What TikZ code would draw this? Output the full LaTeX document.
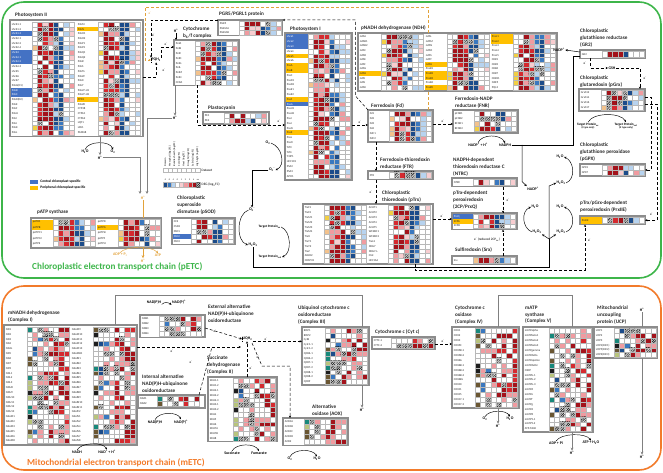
\documentclass[tikz,border=0pt]{standalone}
\usepackage{fontspec}
\setmainfont{Carlito}
\usetikzlibrary{positioning, arrows.meta, patterns.meta}

\definecolor{pgreen}{HTML}{3DB54A}
\definecolor{morange}{HTML}{F27B2B}
\definecolor{aorange}{HTML}{E2A23A}
\definecolor{tabgray}{HTML}{8C8C8C}
\definecolor{linegray}{HTML}{808080}
\definecolor{hmA}{HTML}{A3131B}
\definecolor{hmB}{HTML}{D52A2F}
\definecolor{hmC}{HTML}{F09BA0}
\definecolor{hmD}{HTML}{F8CDD0}
\definecolor{hmE}{HTML}{1C4C8A}
\definecolor{hmF}{HTML}{3A78BF}
\definecolor{hmG}{HTML}{B7D3EF}
\definecolor{hmY}{HTML}{F1CF45}
\definecolor{hmO}{HTML}{F3C28C}
\definecolor{hmN}{HTML}{6A5632}
\definecolor{hmK}{HTML}{1E1E1E}
\definecolor{hmT}{HTML}{17897B}
\definecolor{hmV}{HTML}{B8C47C}
\definecolor{hb}{HTML}{4472C4}
\definecolor{hy}{HTML}{FFC000}
\colorlet{hw}{white}

\tikzset{
  rowlab/.style = {font=\fontsize{2.9}{3}\selectfont, anchor=west, inner sep=0pt},
  ttl/.style    = {font=\fontsize{5.2}{6.8}\selectfont\bfseries, align=left,
                   anchor=north west, inner sep=0pt, text=black!85},
  bigttl/.style = {font=\fontsize{9.2}{10}\selectfont\bfseries, anchor=west, inner sep=0pt},
  chem/.style   = {font=\fontsize{3.9}{4.4}\selectfont\bfseries, inner sep=0.4pt},
  tgt/.style    = {font=\fontsize{3.3}{3.6}\selectfont\bfseries, align=center, inner sep=0.4pt},
  elab/.style   = {font=\fontsize{3.4}{4}\selectfont, inner sep=0.3pt},
  lgtext/.style = {font=\fontsize{3.6}{4}\selectfont\bfseries, anchor=west, inner sep=0pt},
  dslab/.style  = {font=\fontsize{2.6}{3}\selectfont, rotate=90, anchor=west, inner sep=0pt},
  swatch/.style = {minimum width=8pt, minimum height=3.5pt, inner sep=0pt},
  tabbox/.style = {draw=tabgray, line width=1.1pt, fill=white, anchor=north west,
                   inner sep=0pt, outer sep=0pt},
  cellln/.style = {draw=black!28, line width=0.12pt},
  eflow/.style  = {densely dashed, line width=0.5pt, -{Stealth[length=2.4pt,width=2.2pt]}},
  oflow/.style  = {eflow, draw=aorange},
  oline/.style  = {densely dashed, line width=0.5pt, draw=aorange},
  hflow/.style  = {draw=linegray, line width=0.9pt, -{Stealth[length=3pt,width=2.8pt]}},
  hline/.style  = {draw=linegray, line width=0.9pt},
  aline/.style  = {draw=aorange, line width=0.9pt},
  aflow/.style  = {aline, -{Stealth[length=3pt,width=2.8pt]}},
  rxn/.style    = {line width=0.45pt, -{Stealth[length=2.4pt,width=2.2pt]}},
  arxn/.style   = {rxn, draw=aorange},
  sline/.style  = {line width=0.5pt},
  sarrow/.style = {line width=0.5pt, -{Stealth[length=2.4pt,width=2.2pt]}},
}

\newcommand{\eminus}{e\textsuperscript{-}}
\newcommand{\hpl}{H\textsuperscript{+}}
\newcommand{\htwoo}{H\textsubscript{2}O}
\newcommand{\htwooo}{H\textsubscript{2}O\textsubscript{2}}

% cell geometry and colour palettes (codes: 0 white, 1-4 reds, 5-7 blues, 8 hatched, 9-14 tags)
\def\tagw{5}
\def\cellw{5.3}
\def\hbname{hb}
\def\palT{{0,0,0,0,0,0,0,0,9,10}}
\def\palU{{0,0,0,0,11,11,12,13,14,0}}
\def\palRa{{1,1,1,2,8,8,3,1,0,2}}
\def\palRb{{1,1,2,2,1,8,3,1,0,4}}
\def\palRc{{1,1,2,3,4,0,8,1,2,3}}
\def\palBa{{5,5,5,5,5,6,6,8,7,0}}
\def\palBb{{5,5,5,6,6,7,0,8,5,0}}
\def\palLa{{0,0,0,7,7,0,3,0,0,7}}
\def\palLb{{0,0,0,0,0,7,0,3,4,0}}
\def\palXa{{0,0,8,8,0,6,5,0,3,0}}
\def\palXb{{0,0,8,8,8,0,6,3,0,0}}
\def\palXc{{0,0,0,8,8,3,3,1,0,0}}
\def\palM{{0,0,0,1,1,2,3,3,8,0}}
\def\colsP{\palT,\palRa,\palRb,\palRc,\palBa,\palBb,\palLa,\palLb}
\def\colsM{\palU,\palXa,\palXb,\palXc,\palM,\palM,\palM,\palM}

\newcommand{\hmcell}[5]{%
  \ifcase#5\relax\def\cc{white}\or\def\cc{hmA}\or\def\cc{hmB}\or\def\cc{hmC}\or
    \def\cc{hmD}\or\def\cc{hmE}\or\def\cc{hmF}\or\def\cc{hmG}\or\def\cc{white}\or
    \def\cc{hmY}\or\def\cc{hmO}\or\def\cc{hmN}\or\def\cc{hmK}\or\def\cc{hmT}\or
    \def\cc{hmV}\fi
  \fill[\cc] (#1,#2) rectangle ++(#3,#4);
  \ifnum#5=8\relax
    \fill[pattern={Lines[angle=45,distance=1.2pt,line width=0.45pt]}, pattern color=black]
      (#1,#2) rectangle ++(#3,#4);
  \fi
  \draw[cellln] (#1,#2) rectangle ++(#3,#4);
}

% one block of a heat map: prefix, x, y, label width, row height, palettes, rows
\newcommand{\hmgroup}[7]{%
  \foreach \lab/\hl [count=\r from 0] in {#7}{%
    \pgfmathsetmacro{\yy}{#3+\r*#5}%
    \fill[\hl] (#2,\yy) rectangle ++(#4,#5);
    \ifx\hl\hbname\def\tc{white}\else\def\tc{black!85}\fi
    \node[rowlab, text=\tc] (#1\r) at (#2+0.7,\yy+0.5*#5) {\lab};
    \foreach \pal [count=\c from 0] in #6 {%
      \pgfmathrandominteger{\k}{0}{9}%
      \pgfmathtruncatemacro{\ci}{\pal[\k]}%
      \ifnum\c=0
        \hmcell{#2+#4}{\yy}{\tagw}{#5}{\ci}%
      \else
        \pgfmathsetmacro{\xx}{#2+#4+\tagw+(\c-1)*\cellw}%
        \hmcell{\xx}{\yy}{\cellw}{#5}{\ci}%
      \fi
    }%
  }%
}

\begin{document}
\begin{tikzpicture}[x=1pt, y=-1pt]
  \useasboundingbox (0,0) rectangle (663,473);
  % frames
  \draw[pgreen, line width=1.6pt, rounded corners=22pt] (2,2) rectangle (661,278);
  \draw[morange, line width=1.6pt, rounded corners=22pt] (2,286) rectangle (661,470);
  \node[bigttl, text=pgreen] (ttlp) at (32,267) {Chloroplastic electron transport chain (pETC)};
  \node[bigttl, text=morange] (ttlm) at (27,463) {Mitochondrial electron transport chain (mETC)};

  % chloroplast tables
  \node[tabbox, minimum width=133pt, minimum height=116.5pt] (psii) at (10,20) {};
  \node[tabbox, minimum width=65pt, minimum height=45.5pt] (cyt) at (174,40) {};
  \node[tabbox, minimum width=64.5pt, minimum height=15.5pt] (pgr) at (218,20) {};
  \node[tabbox, minimum width=66pt, minimum height=12pt] (pc) at (203,112) {};
  \node[tabbox, minimum width=67pt, minimum height=147pt] (psi) at (285,33) {};
  \node[tabbox, minimum width=199pt, minimum height=58pt] (ndh) at (358,33) {};
  \node[tabbox, minimum width=65pt, minimum height=32pt] (fd) at (368,110) {};
  \node[tabbox, minimum width=65pt, minimum height=23pt] (fnr) at (453,110) {};
  \node[tabbox, minimum width=65pt, minimum height=8.5pt] (ftr) at (368,171) {};
  \node[tabbox, minimum width=130pt, minimum height=60pt] (ptrx) at (303,204) {};
  \node[tabbox, minimum width=65pt, minimum height=8.5pt] (ntrc) at (452,178) {};
  \node[tabbox, minimum width=65pt, minimum height=16.5pt] (tcp) at (452,213) {};
  \node[tabbox, minimum width=65pt, minimum height=8.5pt] (srx) at (452,256) {};
  \node[tabbox, minimum width=65pt, minimum height=8.5pt] (gr2) at (580,50) {};
  \node[tabbox, minimum width=66pt, minimum height=22pt] (grx) at (579,89) {};
  \node[tabbox, minimum width=65pt, minimum height=12pt] (gpx) at (580,164) {};
  \node[tabbox, minimum width=65pt, minimum height=8.5pt] (prx) at (580,216) {};
  \node[tabbox, minimum width=130pt, minimum height=30pt] (patp) at (31,218) {};
  \node[tabbox, minimum width=63pt, minimum height=26.5pt] (psod) at (172,218) {};

  \pgfmathsetseed{11}
  \hmgroup{psiia}{11}{22}{21}{4.7}{\colsP}{Lhcb1.1/hw, Lhcb1.2/hw, Lhcb1.3/hb, Lhcb2.1/hw,
    Lhcb2.2/hw, Lhcb2.4/hw, Lhcb3/hb, Lhcb4.1/hb, Lhcb4.2/hb, Lhcb4.3/hw, Lhcb5/hw, Lhcb6/hw,
    Lhcb7/hw, PsbA(D1)/hw, PsbB/hb, PsbC/hb, PsbD(D2)/hw, PsbE/hw, PsbF/hw, PsbH/hw, PsbI/hw,
    PsbJ/hw, PsbK/hw, PsbL/hw}
  \hmgroup{psiib}{77}{22}{21}{4.7}{\colsP}{PsbM/hw, PsbN/hy, PsbO1/hw, PsbO2/hw, PsbP1/hw,
    PsbP2/hw, PsbQ1/hw, PsbQ2/hw, PsbR/hw, PsbS/hw, PsbTn/hw, PsbW/hw, PsbX/hw, PsbY/hw,
    Psb27-H1/hw, Psb27-H2/hw, PPD1/hy, Psb28/hw, CYP38/hw, CTPA1/hw, CTPA2/hw, LQY1/hw,
    LPA1/hw, PAM68/hw}
  \pgfmathsetseed{23}
  \hmgroup{cyta}{175}{41.5}{20}{4.8}{\colsP}{PetA/hw, PetB/hw, PetC/hw, PetD/hw, PetG/hw,
    PetL/hw, PetM/hw, PetN/hw, CCDA/hw}
  \hmgroup{pgra}{219}{21.5}{20}{4.4}{\colsP}{PGR5/hw, PGRL1A/hw, PGRL1B/hw}
  \hmgroup{pca}{204}{113}{20}{5}{\colsP}{PE1/hw, PE2/hw}
  \pgfmathsetseed{37}
  \hmgroup{psia}{286}{34.5}{22}{4.8}{\colsP}{Lhca1/hb, Lhca2/hb, Lhca3/hb, Lhca4/hw, Lhca5/hy,
    Lhca6/hw, PsaA/hy, PsaB/hy, PsaC/hw, PsaD1/hw, PsaD2/hw, PsaE1/hw, PsaE2/hw, PsaF/hy,
    PsaG/hb, PsaH1/hw, PsaH2/hw, PsaI/hw, PsaJ/hw, PsaN/hw, PsaK/hy, PsaL/hw, PsaO/hw,
    Ycf3/hw, Ycf4/hw, Y3IP1/hw, HCF101/hw, PSA2/hw, PSA3/hw, APO1/hw}
  \pgfmathsetseed{41}
  \hmgroup{ndha}{359}{34.5}{22}{4.6}{\colsP}{ndhA/hw, ndhB1/hw, ndhB2/hw, ndhC/hw, ndhD/hw,
    ndhE/hw, ndhF/hw, ndhG/hw, ndhH/hy, ndhI/hw, ndhJ/hw, ndhK/hw}
  \hmgroup{ndhb}{425}{34.5}{22}{4.6}{\colsP}{ndhL/hw, ndhM/hw, ndhN/hw, ndhO/hw, ndhS/hw,
    ndhT/hw, ndhU/hy, PnsB1/hw, PnsB2/hy, PnsB3/hy, PnsB4/hw, PnsB5/hy}
  \hmgroup{ndhc}{491}{34.5}{22}{4.6}{\colsP}{PnsL1/hy, PnsL2/hy, PnsL3/hw, PnsL4/hw, PnsL5/hw,
    CRR1/hw, CRR3/hw, CRR6/hw, CRR7/hw, CRR21/hw, NDF5/hw, PQL3/hw}
  \pgfmathsetseed{53}
  \hmgroup{fda}{369}{111.5}{20}{5}{\colsP}{Fd1/hw, Fd2/hw, Fd3/hw, Fd4/hw, FdC1/hw, FdC2/hw}
  \hmgroup{fnra}{454}{111.5}{20}{5}{\colsP}{pFNR1/hw, pFNR2/hw, RFNR1/hw, RFNR2/hw}
  \hmgroup{ftra}{369}{172}{20}{6.5}{\colsP}{FTR/hw}
  \pgfmathsetseed{67}
  \hmgroup{ptrxa}{304}{205.5}{20}{4.8}{\colsP}{TrxF1/hw, TrxF2/hw, TrxM1/hw, TrxM2/hw, TrxM3/hw,
    TrxM4/hw, TrxX/hw, TrxY1/hw, TrxY2/hw, TrxZ/hw, AtHD2/hw, CDSP32/hw}
  \hmgroup{ptrxb}{368}{205.5}{20}{4.8}{\colsP}{ACHT1/hw, ACHT2/hw, ACHT3/hw, ACHT4/hw, ACHT5/hw,
    WCRKC1/hw, WCRKC2/hw, TrxL2/hw, MRL7/hw, MRL7-L/hw, Clot/hw, HCF164/hw}
  \pgfmathsetseed{71}
  \hmgroup{ntrca}{453}{179}{20}{6.5}{\colsP}{NTRC/hw}
  \hmgroup{tcpa}{453}{214}{20}{4.8}{\colsP}{PrxQ/hb, 2CPA/hy, 2CPB/hw}
  \hmgroup{srxa}{453}{257}{20}{6.5}{\colsP}{Srx/hw}
  \hmgroup{gra}{581}{51}{21}{6.5}{\colsP}{GR2/hw}
  \hmgroup{grxa}{580}{90.5}{21}{5}{\colsP}{GrxS12/hw, GrxS14/hw, GrxS16/hw, GrxS17/hw}
  \hmgroup{gpxa}{581}{165}{21}{5}{\colsP}{GPX1/hw, GPX7/hw}
  \hmgroup{prxa}{581}{217}{21}{6.5}{\colsP}{PrxIIE/hy}
  \pgfmathsetseed{83}
  \hmgroup{patpa}{32}{219.5}{21}{5.4}{\colsP}{pATPA/hy, pATPB/hy, pATPC1/hw, pATPC2/hw, pATPE/hw}
  \hmgroup{patpb}{97}{219.5}{21}{5.4}{\colsP}{pATPD/hw, pATPG/hy, pATPIn/hw, pATPF/hw, pATPH/hw}
  \hmgroup{psoda}{173}{219.5}{18}{4.8}{\colsP}{CCS/hw, CSD2/hw, FSD1/hw, FSD2/hb, FSD3/hw}

  % chloroplast titles
  \node[ttl, anchor=west] (tpsii) at (15,15) {Photosystem II};
  \node[ttl] (tcyt) at (183,26.7) {Cytochrome\\b\textsubscript{6}/f complex};
  \node[ttl, anchor=west] (tpgr) at (219,14) {PGR5/PGRL1 protein};
  \node[ttl, anchor=west] (tpc) at (208,108) {Plastocyanin};
  \node[ttl, anchor=west] (tpsi) at (290,29) {Photosystem I};
  \node[ttl, anchor=west] (tndh) at (361,28) {pNADH dehydrogenase (NDH)};
  \node[ttl, anchor=west] (tfd) at (371,106) {Ferredoxin (Fd)};
  \node[ttl] (tfnr) at (455,96.7) {Ferredoxin-NADP\\reductase (FNR)};
  \node[ttl] (tftr) at (380,157.7) {Ferredoxin-thioredoxin\\reductase (FTR)};
  \node[ttl] (tptrx) at (382,190.7) {Chloroplastic\\thioredoxin (pTrx)};
  \node[ttl] (tntrc) at (453,157.7) {NADPH-dependent\\thioredoxin reductase C\\(NTRC)};
  \node[ttl] (ttcp) at (453,190.7) {pTrx-dependent\\peroxiredoxin\\(2CP/PrxQ)};
  \node[ttl, anchor=west] (tsrx) at (455,250) {Sulfiredoxin (Srx)};
  \node[ttl] (tgr2) at (580,28.7) {Chloroplastic\\glutathione reductase\\(GR2)};
  \node[ttl] (tgrx) at (580,75.7) {Chloroplastic\\glutaredoxin (pGrx)};
  \node[ttl] (tgpx) at (580,142.7) {Chloroplastic\\glutathione peroxidase\\(pGPX)};
  \node[ttl] (tprx) at (580,200.7) {pTrx/pGrx-dependent\\peroxiredoxin (PrxIIE)};
  \node[ttl, anchor=west] (tpatp) at (37,212) {pATP synthase};
  \node[ttl] (tpsod) at (177,195.7) {Chloroplastic\\superoxide\\dismutase (pSOD)};

  % legend
  \node[swatch, fill=hb] (lgb) at (34,182) {};
  \node[lgtext, right=2pt of lgb] (lgbt) {Central chloroplast-specific};
  \node[swatch, fill=hy] (lgy) at (34,188) {};
  \node[lgtext, right=2pt of lgy] (lgyt) {Peripheral chloroplast-specific};
  \foreach \lab [count=\i from 0] in {Domain, Mesophyll (log2FC), Bundle sheath (log2FC),
      Cold (log2FC), Heat (log2FC), Drought (log2FC), Salinity (log2FC), High light (log2FC)}{
    \draw[cellln, fill=white] (163+\i*4.6,168) rectangle ++(4.6,4.4);
    \node[dslab] (ds\i) at (165.3+\i*4.6,166.5) {\lab};
  }
  \node[lgtext, font=\fontsize{3.4}{4}\selectfont] (dsname) at (201.5,170.2) {Dataset};
  \foreach \cl/\num [count=\i from 0] in {hmE/-3, hmF/-2, hmG/-1, white/0, hmD/1, hmC/2,
      hmB/3, hmA/4, white/ns}{
    \draw[cellln, fill=\cl] (163+\i*4.1,182) rectangle ++(4.1,5);
    \node[font=\fontsize{2.2}{2.5}\selectfont, inner sep=0pt] (dg\i) at (165.05+\i*4.1,179.6) {\num};
  }
  \fill[pattern={Lines[angle=45,distance=1.2pt,line width=0.45pt]}] (195.8,182) rectangle ++(4.1,5);
  \node[lgtext, font=\fontsize{3.4}{4}\selectfont] (degname) at (201.5,184.5)
    {DEG (log\textsubscript{2}FC)};

  % chloroplast chemistry labels
  \node[chem] (h2oa) at (85,152) {\htwoo};
  \node[chem] (o2a) at (113,152) {O\textsubscript{2}};
  \node[chem] (hpa) at (100,157.5) {\hpl};
  \node[chem] (hpb) at (175,118) {\hpl};
  \node[chem] (hpc) at (176,31) {\hpl};
  \node[chem, text=aorange] (hpd) at (143,197.5) {\hpl};
  \node[chem, text=aorange] (adp) at (120,255) {ADP + P\textsubscript{i}};
  \node[chem, text=aorange] (atp) at (158,255) {ATP};
  \node[chem, text=aorange] (hpe) at (143,260.5) {\hpl};
  \node[chem, anchor=west] (pqh) at (151,60) {PQH\textsubscript{2}};
  \node[chem] (o2b) at (268,143) {O\textsubscript{2}};
  \node[chem] (o2mb) at (272,170) {O\textsubscript{2}\textsuperscript{-}};
  \node[chem] (o2mc) at (252,210) {O\textsubscript{2}\textsuperscript{-}};
  \node[chem] (h2o2c) at (253,245) {\htwooo};
  \node[tgt, anchor=west] (tpox) at (258,227) {Target Protein\textsubscript{ox}};
  \node[tgt, anchor=west] (tpred) at (258,257) {Target Protein\textsubscript{red}};
  \node[chem] (nadpa) at (478,145) {NADP\textsuperscript{+} + \hpl};
  \node[chem] (nadph) at (505,145) {NADPH};
  \node[chem] (nadpb) at (559,50) {NADP\textsuperscript{+}};
  \node[chem] (nadpc) at (533,188.5) {NADP\textsuperscript{+}};
  \node[chem] (gsh) at (612,68) {GSH};
  \node[tgt] (tpoxb) at (588,126) {Target Protein\textsubscript{ox}\\
    {\fontsize{2.6}{3}\selectfont (I type only)}};
  \node[tgt] (tpredb) at (626,126) {Target Protein\textsubscript{red}\\
    {\fontsize{2.6}{3}\selectfont (II type only)}};
  \node[chem] (h2od) at (535,207) {\htwoo};
  \node[chem] (h2o2d) at (537,232) {\htwooo};
  \node[chem] (h2oe) at (560,157) {\htwoo};
  \node[chem] (h2o2e) at (561,183) {\htwooo};
  \node[chem] (h2of) at (560,207) {\htwoo};
  \node[chem] (h2o2f) at (561,232) {\htwooo};
  \node[elab, anchor=east] (srxlab) at (500.5,240) {\eminus{} (reduced 2CP\textsubscript{ox})};

  % chloroplast electron flow
  \coordinate (psiie) at (143,77);
  \draw[eflow] (psiie) -| (pqh.south);
  \draw[eflow] (pqh.north east) |- (cyt.west |- 0,47);
  \draw[eflow] (fd.north west) -- (355.5,96) |- (pgr.north east);
  \draw[eflow] (pgr.north west) -| (pqh.north west);
  \draw[oline] (fd.north -| 428,0) -- (ndh.south -| 428,0);
  \draw[oflow] (ndh.north -| 428,0) |- (145,7) |- (pqh.west);
  \draw[line width=0.9pt, dash pattern=on 0.8pt off 0.5pt] (pqh.north west) -- (pqh.south west);
  \draw[eflow] (cyt.south -| 197,0) |- (psi.west |- 0,125);
  \draw[eflow] (psi.east |- 0,125) -- (fd.west |- 0,125);
  \draw[eflow] (fd.east |- 0,124) -- (fnr.west |- 0,124);
  \draw[eflow] (fd.south -| 376,0) -- (ftr.north -| 376,0);
  \draw[eflow] (ftr.south -| 376,0) -- (ptrx.north -| 376,0);
  \draw[eflow] (ptrx.east |- 0,219) -- (tcp.west |- 0,219);
  \draw[eflow] (ntrc.south -| 503,0) -- (tcp.north -| 503,0);
  \draw[eflow] (srx.north -| 503,0) -- (tcp.south -| 503,0);
  \draw[eflow] (ptrx.south -| 415,0) |- (585,270) -- (prx.south -| 585,0);
  \draw[eflow] (gr2.south -| 590,0) |- (gsh.west);
  \draw[eflow] (gsh.east) -| (grx.north -| 640,0);
  \draw[eflow] (grx.east |- 0,97) -- (651,97) |- (gpx.east);
  \draw[eflow] (grx.east |- 0,104) -- (657,104) |- (prx.east);
  \node[elab, text=aorange] (e1) at (150,13) {\eminus};
  \node[elab] (e2) at (153.5,35) {\eminus};
  \node[elab] (e3) at (164,70) {\eminus};
  \node[elab] (e4) at (166,44) {\eminus};
  \node[elab] (e5) at (279,121.5) {\eminus};
  \node[elab] (e6) at (360,122) {\eminus};
  \node[elab] (e7) at (443,121) {\eminus};
  \node[elab] (e8) at (371,192) {\eminus};
  \node[elab] (e9) at (442,216) {\eminus};
  \node[elab] (e10) at (508,200) {\eminus};
  \node[elab] (e11) at (589.5,240) {\eminus};
  \node[elab] (e12) at (585,63) {\eminus};
  \node[elab] (e13) at (645,78) {\eminus};
  \node[elab] (e14) at (651.5,214.5) {\eminus};

  % chloroplast proton and reaction paths
  \draw[rxn] (h2oa.north) .. controls +(3,-9) and +(-3,-9) .. (o2a.north);
  \draw[hflow] (psii.south -| hpa) -- (hpa.north);
  \coordinate (patpin1) at (140,194);
  \coordinate (patpin2) at (147,194);
  \draw[hflow] (hpa.east) -| (patpin1);
  \draw[hflow] (cyt.south -| hpb) -- (hpb.north);
  \draw[hflow] (hpb.west) -| (patpin2);
  \draw[sarrow] (hpc.south) -- (hpc.south |- cyt.north);
  \draw[aline] (hpd.south) -- (patp.north -| hpd);
  \draw[aflow] (patp.south -| hpd) -- (hpe.north);
  \draw[arxn] (adp.north) .. controls +(6,-7) and +(-6,-7) .. (atp.north);
  \draw[rxn] (o2b.east) .. controls +(12,4) and +(10,-4) .. (o2mb.east);
  \draw[sarrow] (o2mb.west) -| (o2mc.north);
  \draw[rxn] (o2mc.west) .. controls +(-12,4) and +(-12,-4) .. (h2o2c.west);
  \draw[rxn] (tpox.east) .. controls +(10,4) and +(10,-4) .. (tpred.east);
  \draw[rxn] (nadpa.north) .. controls +(4,-9) and +(-4,-9) .. (nadph.north);
  \draw[sline] (nadph.east) -- (573,145) |- (gr2.west |- 0,56);
  \draw[sarrow] (gr2.west |- 0,52) -- (nadpb.east);
  \draw[sarrow] (522,145) -- (522,181.5) -- (nadpc.north west);
  \draw[rxn] (tpoxb.north) .. controls +(5,-10) and +(-5,-10) .. (tpredb.north);
  \draw[rxn] (h2o2d.west) .. controls +(-10,-4) and +(-10,4) .. (h2od.west);
  \draw[rxn] (h2o2e.east) .. controls +(10,-4) and +(10,4) .. (h2oe.east);
  \draw[rxn] (h2o2f.east) .. controls +(10,-4) and +(10,4) .. (h2of.east);
  \coordinate (jx) at (549,239);
  \draw[sline] (h2o2c.south) |- (549,267) -- (jx);
  \draw[sarrow] (jx) -- (h2o2d.south east);
  \draw[sarrow] (jx) -- (h2o2f.south west);
  \draw[sarrow] (jx) -- (549,186) -- (h2o2e.west);

  % mitochondrial tables
  \node[tabbox, minimum width=133pt, minimum height=120pt] (ci) at (4,325) {};
  \node[tabbox, minimum width=65pt, minimum height=22pt] (ext) at (140,315) {};
  \node[tabbox, minimum width=67pt, minimum height=13pt] (int) at (138,395) {};
  \node[tabbox, minimum width=69pt, minimum height=64.5pt] (sdh) at (208,377) {};
  \node[tabbox, minimum width=67pt, minimum height=58pt] (c3) at (302,327) {};
  \node[tabbox, minimum width=63pt, minimum height=12pt] (cytc) at (372,337) {};
  \node[tabbox, minimum width=67pt, minimum height=81pt] (c4) at (452,327) {};
  \node[tabbox, minimum width=70pt, minimum height=105pt] (c5) at (523,327) {};
  \node[tabbox, minimum width=63.5pt, minimum height=31pt] (ucp) at (594,327) {};
  \node[tabbox, minimum width=65pt, minimum height=27pt] (aox) at (283,418) {};

  \pgfmathsetseed{97}
  \hmgroup{cia}{5}{327}{22}{4.85}{\colsM}{ND1/hw, ND2/hw, ND3/hw, ND4/hw, ND4L/hw, ND5/hw,
    ND6/hw, ND7/hw, ND9/hw, NDL1/hw, NDL2/hw, NDL3/hw, NDU8/hw, NDU9/hw, NDU10/hw, NDU11/hw,
    NDU12/hw, NDU13/hw, NdufA1/hw, NdufA2/hw, NdufA3/hw, NdufA5/hw, NdufA6/hw, NdufA8/hw}
  \hmgroup{cib}{71}{327}{22}{4.85}{\colsM}{NdufA9/hw, NdufA10/hw, NdufA11/hw, NdufA12/hw,
    NdufA13/hw, NdufAB1/hw, NdufB1/hw, NdufB2/hw, NdufB3/hw, NdufB4/hw, NdufB5/hw, NdufB6/hw,
    NdufB7/hw, NdufB8/hw, NdufB9/hw, NdufB10/hw, NdufB11/hw, NdufC2/hw, NdufS1/hw, NdufS2/hw,
    NdufS4/hw, NdufS6/hw, NdufS7/hw, NdufS8/hw}
  \pgfmathsetseed{101}
  \hmgroup{exta}{141}{316.5}{18}{5}{\colsM}{NDB1/hw, NDB2/hw, NDB3/hw, NDB4/hw}
  \hmgroup{inta}{139}{396.5}{18}{5}{\colsM}{NDA1/hw, NDA2/hw}
  \hmgroup{sdha}{209}{378.5}{24}{4.8}{\colsM}{SDH1-1/hw, SDH1-2/hw, SDH2-1/hw, SDH2-2/hw,
    SDH2-3/hw, SDH3-1/hw, SDH3-2/hw, SDH4/hw, SDH5/hw, SDH6/hw, SDH7A/hw, SDH7B/hw, SDH8/hw}
  \pgfmathsetseed{113}
  \hmgroup{c3a}{303}{328.5}{22}{4.6}{\colsM}{RISP1/hw, RISP2/hw, CytB/hw, Cytc1-1/hw,
    Cytc1-2/hw, QCR6-1/hw, QCR6-2/hw, QCR7-1/hw, QCR7-2/hw, QCR8-1/hw, QCR8-2/hw, QCR9/hw}
  \hmgroup{cytca}{373}{338}{18}{5}{\colsM}{CYTC-1/hw, CYTC-2/hw}
  \pgfmathsetseed{127}
  \hmgroup{c4a}{453}{328.5}{22}{4.9}{\colsM}{COX1/hw, COX2/hw, COX3/hw, COX5C/hw, COX5B-1/hw,
    COX5B-2/hw, COX6A/hw, COX6B-1/hw, COX6B-2/hw, COX6B-3/hw, COX6BL/hw, COX10/hw, COX11/hw,
    COX15/hw, COX17-1/hw, COX17-2/hw}
  \hmgroup{c5a}{524}{328.5}{25}{4.9}{\colsM}{mATPalpha/hw, mATPbeta1/hw, mATPbeta2/hw,
    mATPbeta3/hw, mATPgamma/hw, mATPdelta/hw, mATPepsilon/hw, mATPdelta'/hw, OSCP/hw,
    mATPb-1/hw, mATPb-2/hw, mATPb-3/hw, mATPd/hw, mATPe/hw, mATPf/hw, mATPg/hw, mATP6/hw,
    mATP8/hw, mATP9-1/hw, mATP9-2/hw, ATP-MGR/hw}
  \pgfmathsetseed{131}
  \hmgroup{ucpa}{595}{328.5}{19}{4.8}{\colsM}{UCP1/hw, UCP2/hw, UCP3/hw, UCP4(DIC1)/hw,
    UCP5(DIC2)/hw, UCP6(DIC3)/hw}
  \hmgroup{aoxa}{284}{419.5}{20}{5}{\colsM}{AOX1A/hw, AOX1B/hw, AOX1C/hw, AOX1D/hw, AOX2/hw}

  % mitochondrial titles
  \node[ttl] (tci) at (8,310.7) {mNADH dehydrogenase\\(Complex I)};
  \node[ttl] (text) at (208,304.7) {External alternative\\NAD(P)H-ubiquinone\\oxidoreductase};
  \node[ttl] (tint) at (142,374.7) {Internal alternative\\NAD(P)H-ubiquinone\\oxidoreductase};
  \node[ttl] (tsdh) at (207,355.7) {Succinate\\dehydrogenase\\(Complex II)};
  \node[ttl] (tc3) at (298,305.7) {Ubiquinol cytochrome c\\oxidoreductase\\(Complex III)};
  \node[ttl, anchor=west] (tcytc) at (375,332) {Cytochrome c (Cyt c)};
  \node[ttl] (tc4) at (455,305.7) {Cytochrome c\\oxidase\\(Complex IV)};
  \node[ttl] (tc5) at (525,305.7) {mATP\\synthase\\(Complex V)};
  \node[ttl] (tucp) at (597,305.7) {Mitochondrial\\uncoupling\\protein (UCP)};
  \node[ttl] (taox) at (312,404.7) {Alternative\\oxidase (AOX)};

  % mitochondrial chemistry labels
  \node[chem] (nadh) at (77,452) {NADH};
  \node[chem] (nadi) at (107,452) {NAD\textsuperscript{+} + \hpl};
  \node[chem] (npxa) at (154,302) {NAD(P)H};
  \node[chem] (npa) at (179,302) {NAD(P)\textsuperscript{+}};
  \node[chem] (npxb) at (155,422) {NAD(P)H};
  \node[chem] (npb) at (181,422) {NAD(P)\textsuperscript{+}};
  \node[chem, anchor=west] (uq) at (242,339) {UQH\textsubscript{2}};
  \node[chem] (succ) at (232,453) {Succinate};
  \node[chem] (fum) at (259,453) {Fumarate};
  \node[chem] (hp3) at (362,410) {\hpl};
  \node[chem] (o2x) at (290,459) {O\textsubscript{2}};
  \node[chem] (h2ox) at (317,459) {\htwoo};
  \node[chem] (o2iv) at (485,419) {O\textsubscript{2}};
  \node[chem] (h2oiv) at (510,419) {\htwoo};
  \node[chem] (hp4) at (498,426) {\hpl};
  \node[chem] (adpv) at (556,443) {ADP + Pi};
  \node[chem] (atpv) at (591,443) {ATP + \htwoo};
  \node[chem] (hp5) at (572,453) {\hpl};
  \node[chem] (hpu1) at (642,310) {\hpl};
  \node[chem] (hpu2) at (642,457) {\hpl};

  % mitochondrial proton and reaction paths
  \draw[rxn] (nadh.north) .. controls +(4,-8) and +(-4,-8) .. (nadi.north);
  \draw[rxn] (npxa.south east) .. controls +(3,-3) and +(-3,-2) .. (npa.south west);
  \draw[rxn] (npxb.north) .. controls +(4,-8) and +(-4,-8) .. (npb.north);
  \draw[rxn] (succ.north) .. controls +(4,-8) and +(-4,-8) .. (fum.north);
  \draw[rxn] (o2x.north) .. controls +(4,-8) and +(-4,-8) .. (h2ox.north);
  \draw[rxn] (o2iv.north) .. controls +(4,-7) and +(-4,-7) .. (h2oiv.north);
  \draw[rxn] (adpv.north) .. controls +(5,-8) and +(-5,-8) .. (atpv.north);
  \draw[hline] (ci.north -| 115,0) |- (362,295) -- (c3.north -| 362,0);
  \draw[hflow] (c3.south -| hp3) -- (hp3.north);
  \draw[hline] (c4.north -| 498,0) |- (572,295) -- (c5.north -| 572,0);
  \draw[hflow] (c4.south -| hp4) -- (hp4.north);
  \draw[hflow] (c5.south -| hp5) -- (hp5.north);
  \draw[hline] (hpu1.south) -- (ucp.north -| hpu1);
  \draw[hflow] (ucp.south -| hpu1) -- (hpu2.north);

  % mitochondrial electron flow
  \draw[line width=0.9pt, dash pattern=on 0.8pt off 0.5pt] (uq.north west) -- (uq.south west);
  \coordinate (uqa) at (241,347);
  \draw[eflow] (ci.east |- 0,347) -- (uqa);
  \draw[eflow] (ext.east |- 0,328) -- (uq.west);
  \draw[densely dashed, line width=0.5pt] (int.north -| 199,0) -- (212,347);
  \draw[eflow] (sdh.north -| 247,0) -- (uq.south -| 247,0);
  \draw[eflow] (uq.south east) -- (c3.west |- uq.south east);
  \draw[eflow] (252,343) -- (262,366) -| (aox.north -| 290,0);
  \draw[eflow] (cytc.east |- 0,344) -- (c4.west |- 0,344);
  \node[elab] (m1) at (172,351.5) {\eminus};
  \node[elab] (m2) at (215,331) {\eminus};
  \node[elab] (m3) at (191,362) {\eminus};
  \node[elab] (m4) at (251,368) {\eminus};
  \node[elab] (m5) at (266,339.5) {\eminus};
  \node[elab] (m6) at (258,357) {\eminus};
  \node[elab] (m7) at (443,341.5) {\eminus};
\end{tikzpicture}
\end{document}
